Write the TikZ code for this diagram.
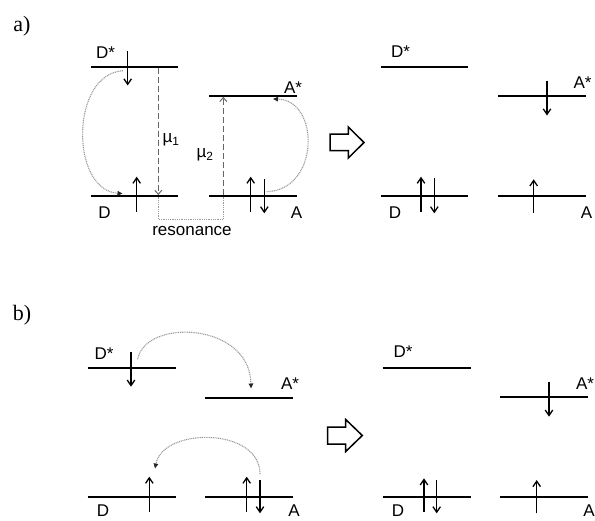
\documentclass[tikz,border=0pt]{standalone}
\usepackage{fontspec}
\setmainfont{Liberation Sans}
\newfontfamily\serifpanel{Liberation Serif}
\usetikzlibrary{arrows.meta}
\begin{document}
\begin{tikzpicture}[x=1pt,y=-1pt,
  level/.style={line width=1.9pt,black},
  spin/.style={line width=1.3pt,black,-{Straight Barb[length=5.5pt,width=7.5pt,line width=1.3pt]}},
  trans/.style={line width=1.2pt,black!60,dash pattern=on 6pt off 3pt,-{Straight Barb[length=4pt,width=7pt,line width=1pt]}},
  hop/.style={line width=1.1pt,black!40,dash pattern=on 1pt off 0.8pt,-{Triangle[length=5pt,width=4.5pt,black!85]}},
  reso/.style={line width=1.1pt,black!40,dash pattern=on 1pt off 0.8pt},
  lab/.style={font=\fontsize{17}{20}\selectfont,inner sep=0pt},
  panel/.style={font=\serifpanel\fontsize{22}{24}\selectfont,inner sep=0pt},
  block/.style={line width=1.5pt,black,fill=white}]
\useasboundingbox (0,0) rectangle (595,520);
% panel labels
\node[panel] (pa) at (22,26) {a)};
\node[panel] (pb) at (22,315) {b)};

% ===== a) left =====
\coordinate (aDs1) at (91,66.7); \coordinate (aDs2) at (178,66.7);
\coordinate (aD1) at (91,195.7); \coordinate (aD2) at (178,195.7);
\coordinate (aAs1) at (209,96); \coordinate (aAs2) at (296.7,96);
\coordinate (aA1) at (209,195.7); \coordinate (aA2) at (296.7,195.7);
\draw[level] (aDs1) -- (aDs2);
\draw[level] (aD1) -- (aD2);
\draw[level] (aAs1) -- (aAs2);
\draw[level] (aA1) -- (aA2);
\node[lab] (laDs) at (105.5,53) {D*};
\node[lab] (laD) at (104.5,213) {D};
\node[lab] (laAs) at (293,88) {A*};
\node[lab] (laA) at (296.5,213) {A};
% spins
\coordinate (s1a) at (127.7,51); \coordinate (s1b) at (127.7,85.5);
\draw[spin] (s1a) -- (s1b);
\coordinate (s2a) at (136.7,211.7); \coordinate (s2b) at (136.7,176.7);
\draw[spin] (s2a) -- (s2b);
\coordinate (s3a) at (250.7,211.7); \coordinate (s3b) at (250.7,176.7);
\draw[spin] (s3a) -- (s3b);
\coordinate (s4a) at (264.3,179); \coordinate (s4b) at (264.3,213.3);
\draw[spin] (s4a) -- (s4b);
% transitions
\coordinate (m1a) at (158.3,67.5); \coordinate (m1b) at (158.3,195);
\draw[trans] (m1a) -- (m1b);
\coordinate (m2a) at (223.3,195); \coordinate (m2b) at (223.3,96.8);
\draw[trans] (m2a) -- (m2b);
\node[lab] (mu1) at (171,140) {µ\textsubscript{1}};
\node[lab] (mu2) at (205,155) {µ\textsubscript{2}};
% resonance
\coordinate (r1) at (158.3,196.6); \coordinate (r2) at (158.3,219.3);
\coordinate (r3) at (223.3,219.3); \coordinate (r4) at (223.3,196.6);
\draw[reso] (r1) -- (r2) -- (r3) -- (r4);
\node[lab] (reson) at (192,231) {resonance};
% hop curves
\coordinate (h1a) at (123,70.7); \coordinate (h1b) at (122.5,193.6);
\draw[hop] (h1a) .. controls (70,74) and (70,190) .. (h1b);
\coordinate (h2a) at (266.7,191.7); \coordinate (h2b) at (273,99);
\draw[hop] (h2a) .. controls (320,190) and (320,100) .. (h2b);

% block arrow a
\draw[block] (330,134) -- (348.3,134) -- (348.3,127) -- (364,142.5) -- (348.3,158) -- (348.3,150.7) -- (330,150.7) -- cycle;

% ===== a) right =====
\coordinate (bDs1) at (381,66.7); \coordinate (bDs2) at (468,66.7);
\coordinate (bD1) at (381,195.7); \coordinate (bD2) at (468,195.7);
\coordinate (bAs1) at (498,96); \coordinate (bAs2) at (585.7,96);
\coordinate (bA1) at (498,195.7); \coordinate (bA2) at (585.7,195.7);
\draw[level] (bDs1) -- (bDs2);
\draw[level] (bD1) -- (bD2);
\draw[level] (bAs1) -- (bAs2);
\draw[level] (bA1) -- (bA2);
\node[lab] (lbDs) at (400.5,51.7) {D*};
\node[lab] (lbD) at (395,213) {D};
\node[lab] (lbAs) at (582.5,82.7) {A*};
\node[lab] (lbA) at (586.5,213) {A};
\coordinate (t1a) at (547,80.7); \coordinate (t1b) at (547,115.5);
\draw[spin] (t1a) -- (t1b);
\coordinate (t2a) at (421,211.7); \coordinate (t2b) at (421,176.7);
\draw[spin] (t2a) -- (t2b);
\coordinate (t3a) at (434.3,178.3); \coordinate (t3b) at (434.3,213.3);
\draw[spin] (t3a) -- (t3b);
\coordinate (t4a) at (533.7,213.3); \coordinate (t4b) at (533.7,179.3);
\draw[spin] (t4a) -- (t4b);

% ===== b) left =====
\coordinate (cDs1) at (87.7,368.3); \coordinate (cDs2) at (175.7,368.3);
\coordinate (cAs1) at (205,397.7); \coordinate (cAs2) at (292.7,397.7);
\coordinate (cD1) at (87.7,497.3); \coordinate (cD2) at (175.7,497.3);
\coordinate (cA1) at (205,497.3); \coordinate (cA2) at (292.7,497.3);
\draw[level] (cDs1) -- (cDs2);
\draw[level] (cAs1) -- (cAs2);
\draw[level] (cD1) -- (cD2);
\draw[level] (cA1) -- (cA2);
\node[lab] (lcDs) at (104,353.3) {D*};
\node[lab] (lcAs) at (290,383.3) {A*};
\node[lab,anchor=base] (lcD) at (103,516) {D};
\node[lab,anchor=base] (lcA) at (294,516) {A};
\coordinate (u1a) at (131,351.7); \coordinate (u1b) at (131,386.7);
\draw[spin] (u1a) -- (u1b);
\coordinate (u2a) at (149.3,511.7); \coordinate (u2b) at (149.3,476.7);
\draw[spin] (u2a) -- (u2b);
\coordinate (u3a) at (246.7,511.7); \coordinate (u3b) at (246.7,476.7);
\draw[spin] (u3a) -- (u3b);
\coordinate (u4a) at (260,480); \coordinate (u4b) at (260,513.3);
\draw[spin] (u4a) -- (u4b);
\coordinate (h3a) at (137.7,359.3); \coordinate (h3b) at (251,388.5);
\draw[hop] (h3a) .. controls (145,318) and (250,322) .. (h3b);
\coordinate (h4a) at (260,474); \coordinate (h4b) at (155,468.5);
\draw[hop] (h4a) .. controls (260,427) and (163,427) .. (h4b);

% block arrow b
\draw[block] (327.7,427) -- (345.5,427) -- (345.5,419.3) -- (362.3,435.5) -- (345.5,451.7) -- (345.5,444) -- (327.7,444) -- cycle;

% ===== b) right =====
\coordinate (dDs1) at (382.7,367.7); \coordinate (dDs2) at (470.7,367.7);
\coordinate (dAs1) at (500,397); \coordinate (dAs2) at (588.3,397);
\coordinate (dD1) at (382.7,497.3); \coordinate (dD2) at (470.7,497.3);
\coordinate (dA1) at (500,497.3); \coordinate (dA2) at (588.3,497.3);
\draw[level] (dDs1) -- (dDs2);
\draw[level] (dAs1) -- (dAs2);
\draw[level] (dD1) -- (dD2);
\draw[level] (dA1) -- (dA2);
\node[lab] (ldDs) at (403,351.7) {D*};
\node[lab] (ldAs) at (585,383.3) {A*};
\node[lab,anchor=base] (ldD) at (398,516) {D};
\node[lab,anchor=base] (ldA) at (589,516) {A};
\coordinate (v1a) at (549,381.7); \coordinate (v1b) at (549,416.7);
\draw[spin] (v1a) -- (v1b);
\coordinate (v2a) at (424,511.7); \coordinate (v2b) at (424,478.3);
\draw[spin] (v2a) -- (v2b);
\coordinate (v3a) at (436.7,480); \coordinate (v3b) at (436.7,513.3);
\draw[spin] (v3a) -- (v3b);
\coordinate (v4a) at (536.7,513.3); \coordinate (v4b) at (536.7,480);
\draw[spin] (v4a) -- (v4b);
\end{tikzpicture}
\end{document}
